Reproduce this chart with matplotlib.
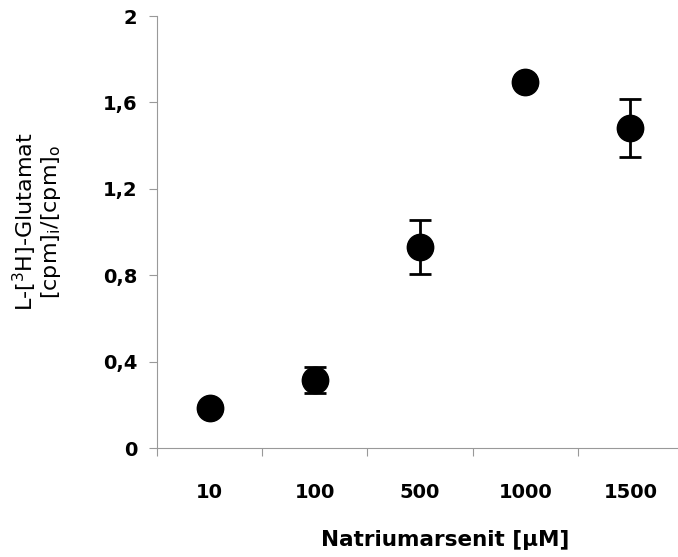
import numpy as np
import matplotlib.pyplot as plt

# Natriumarsenit concentrations (uM) and measured ratio
conc = ["10", "100", "500", "1000", "1500"]
ratio = [0.185, 0.315, 0.93, 1.695, 1.48]
err = [0.0, 0.06, 0.125, 0.03, 0.135]

fig = plt.figure(figsize=(6.78, 5.57), dpi=100)
ax = fig.add_axes([157 / 678, 109 / 557, 526 / 678, 432 / 557])

x = np.arange(len(conc))
ax.errorbar(x, ratio, yerr=err, fmt="o", color="black", markersize=19,
            ecolor="black", elinewidth=2, capsize=8, capthick=2)

ax.set_xlim(-0.5, len(conc) - 0.5)
ax.set_ylim(0, 2)
ax.set_yticks([0, 0.4, 0.8, 1.2, 1.6, 2.0])
ax.set_yticklabels(["0", "0,4", "0,8", "1,2", "1,6", "2"], fontweight="bold", fontsize=14)

# category boundaries as ticks, labels centred in between
ax.set_xticks(np.arange(len(conc) + 1) - 0.5)
ax.set_xticklabels([])
ax.set_xticks(x, minor=True)
ax.set_xticklabels(conc, minor=True, fontweight="bold", fontsize=14)
ax.tick_params(axis="x", which="minor", length=0, pad=25)
ax.tick_params(axis="x", which="major", length=6, color="#999999", direction="out")
ax.tick_params(axis="y", length=6, color="#999999", direction="out", pad=8)

for s in ["top", "right"]:
    ax.spines[s].set_visible(False)
for s in ["left", "bottom"]:
    ax.spines[s].set_color("#999999")

ax.set_xlabel("Natriumarsenit [µM]", fontweight="bold", fontsize=15.5, va="center")
ax.xaxis.set_label_coords(0.548, -0.213)
ax.set_ylabel("L-[$^3$H]-Glutamat\n[cpm]$_\\mathrm{i}$/[cpm]$_\\mathrm{o}$", fontsize=16,
              va="center", linespacing=1.0)
ax.yaxis.set_label_coords(-0.228, 0.523)

fig.savefig("out.png", dpi=100)
